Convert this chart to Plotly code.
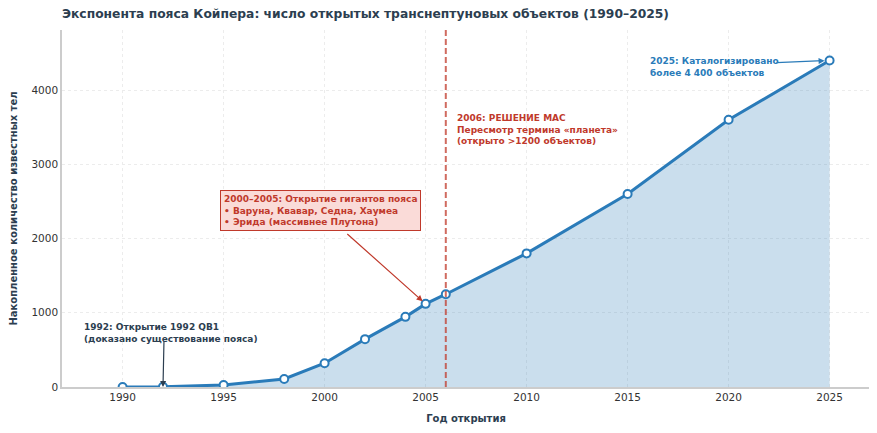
import plotly.graph_objects as go

years = [1990, 1992, 1995, 1998, 2000, 2002, 2004, 2005, 2006, 2010, 2015, 2020, 2025]
counts = [1, 2, 27, 108, 320, 645, 945, 1120, 1250, 1800, 2600, 3600, 4400]

x_ticks = [1990, 1995, 2000, 2005, 2010, 2015, 2020, 2025]
y_ticks = [0, 1000, 2000, 3000, 4000]

blue = '#2a7bb9'
red = '#c0392b'
dark = '#2c3e50'
font = 'DejaVu Sans'
note = 9.0

trace = go.Scatter(
    x=years, y=counts, mode='lines+markers',
    line={'color': blue, 'width': 3},
    marker={'size': 8, 'color': 'white', 'line': {'color': blue, 'width': 2}},
    fill='tozeroy', fillcolor='rgba(42,123,185,0.25)',
    showlegend=False, hoverinfo='x+y'
)

fig = go.Figure(data=[trace])

# IAU decision line
fig.add_shape(type='line', x0=2006, x1=2006, y0=0, y1=1, xref='x', yref='paper',
              line={'color': 'rgba(192,57,43,0.75)', 'width': 2, 'dash': '6px,3px'})

annotations = [
    # 1992 QB1
    dict(x=1988.0, y=900, text='<b>1992: Открытие 1992 QB1<br>(доказано существование пояса)</b>',
         showarrow=False, xanchor='left', yanchor='top', align='left',
         font={'size': note, 'color': dark, 'family': font}),
    dict(x=1992, y=0, ax=1992.05, ay=640, axref='x', ayref='y', text='',
         showarrow=True, arrowhead=2, arrowsize=1, arrowwidth=1.2, arrowcolor=dark),
    # giants box
    dict(x=1994.8, y=2650,
         text='<b>2000–2005: Открытие гигантов пояса<br>• Варуна, Квавар, Седна, Хаумеа<br>• Эрида (массивнее Плутона)</b>',
         showarrow=False, xanchor='left', yanchor='top', align='left',
         bgcolor='#fadbd8', bordercolor=red, borderwidth=1, borderpad=3,
         font={'size': note, 'color': red, 'family': font}),
    dict(x=2005, y=1120, ax=2001.05, ay=2080, axref='x', ayref='y', text='',
         showarrow=True, arrowhead=2, arrowsize=1, arrowwidth=1.2, arrowcolor=red, standoff=4),
    # IAU
    dict(x=2006.45, y=3720,
         text='<b>2006: РЕШЕНИЕ МАС<br>Пересмотр термина «планета»<br>(открыто >1200 объектов)</b>',
         showarrow=False, xanchor='left', yanchor='top', align='left',
         font={'size': note, 'color': red, 'family': font}),
    # 2025
    dict(x=2016.0, y=4480, text='<b>2025: Каталогизировано<br>более 4 400 объектов</b>',
         showarrow=False, xanchor='left', yanchor='top', align='left',
         font={'size': note, 'color': blue, 'family': font}),
    dict(x=2025, y=4400, ax=2022.3, ay=4370, axref='x', ayref='y', text='',
         showarrow=True, arrowhead=2, arrowsize=1, arrowwidth=1.2, arrowcolor=blue, standoff=5),
]

# the page puts the figure 8px in from the top-left corner
fig.update_layout(
    width=869, height=425,
    margin={'l': 54, 'r': 7, 't': 22, 'b': 46},
    paper_bgcolor='white', plot_bgcolor='white',
    font={'family': font, 'color': '#333333', 'size': 12},
    title={'text': '<b>Экспонента пояса Койпера: число открытых транснептуновых объектов (1990–2025)</b>',
           'x': 54 / 869, 'xanchor': 'left', 'y': 1 - 6 / 425, 'yanchor': 'middle',
           'font': {'size': 12.3, 'color': dark, 'family': font}},
    annotations=annotations,
    xaxis={'range': [1987, 2027], 'tickvals': x_ticks, 'ticks': '', 'automargin': False,
           'showgrid': True, 'gridcolor': '#ececec', 'griddash': 'dot', 'gridwidth': 1,
           'showline': True, 'linecolor': '#cccccc', 'linewidth': 1.5, 'zeroline': False,
           'tickfont': {'size': 10.5, 'color': '#333333'},
           'title': {'text': '<b>Год открытия</b>', 'font': {'size': 10, 'color': dark}, 'standoff': 13}},
    yaxis={'range': [0, 4810], 'tickvals': y_ticks, 'ticks': '', 'automargin': False,
           'showgrid': True, 'gridcolor': '#ececec', 'griddash': 'dot', 'gridwidth': 1,
           'showline': True, 'linecolor': '#cccccc', 'linewidth': 1.5, 'zeroline': False,
           'tickfont': {'size': 10.5, 'color': '#333333'},
           'title': {'text': '<b>Накопленное количество известных тел</b>', 'font': {'size': 10, 'color': dark}, 'standoff': 13}},
)

fig.write_html('out.html')
